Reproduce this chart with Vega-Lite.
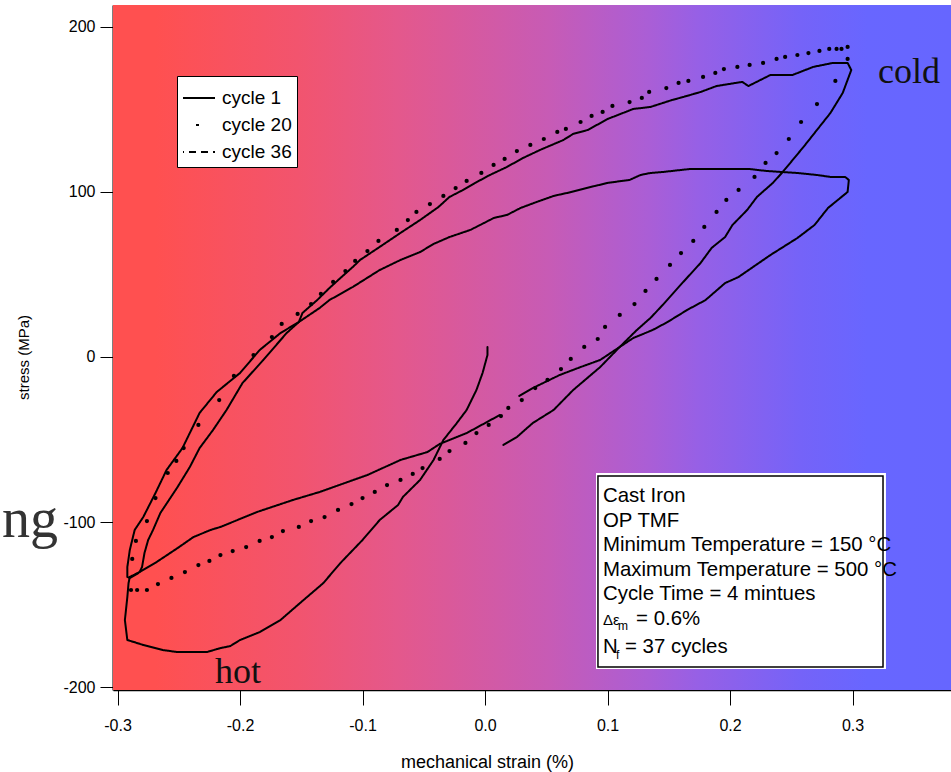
{
  "$schema": "https://vega.github.io/schema/vega-lite/v6.json",
  "width": 838,
  "height": 685,
  "autosize": {"type": "none"},
  "padding": {"left": 113, "top": 5, "right": 0, "bottom": 82},
  "background": "white",
  "config": {
    "font": "Liberation Sans",
    "view": {"stroke": null},
    "axis": {"grid": false, "domainColor": "black", "tickColor": "black", "labelColor": "black", "titleColor": "black", "titleFontWeight": "normal"}
  },
  "datasets": {
    "paths": [
      {"seg":"a","cycle":"cycle 1","t":1,"strain":0.002,"stress":6.1},
      {"seg":"a","cycle":"cycle 1","t":2,"strain":0.002,"stress":1.2},
      {"seg":"a","cycle":"cycle 1","t":3,"strain":-0.002,"stress":-9.7},
      {"seg":"a","cycle":"cycle 1","t":4,"strain":-0.007,"stress":-20.0},
      {"seg":"a","cycle":"cycle 1","t":5,"strain":-0.015,"stress":-32.1},
      {"seg":"a","cycle":"cycle 1","t":6,"strain":-0.023,"stress":-40.0},
      {"seg":"a","cycle":"cycle 1","t":7,"strain":-0.034,"stress":-50.3},
      {"seg":"a","cycle":"cycle 1","t":8,"strain":-0.042,"stress":-62.4},
      {"seg":"a","cycle":"cycle 1","t":9,"strain":-0.053,"stress":-74.5},
      {"seg":"a","cycle":"cycle 1","t":10,"strain":-0.067,"stress":-84.8},
      {"seg":"a","cycle":"cycle 1","t":11,"strain":-0.071,"stress":-89.7},
      {"seg":"a","cycle":"cycle 1","t":12,"strain":-0.086,"stress":-98.8},
      {"seg":"a","cycle":"cycle 1","t":13,"strain":-0.100,"stress":-110.9},
      {"seg":"a","cycle":"cycle 1","t":14,"strain":-0.118,"stress":-124.8},
      {"seg":"a","cycle":"cycle 1","t":15,"strain":-0.132,"stress":-137.0},
      {"seg":"a","cycle":"cycle 1","t":16,"strain":-0.151,"stress":-149.1},
      {"seg":"a","cycle":"cycle 1","t":17,"strain":-0.167,"stress":-159.4},
      {"seg":"a","cycle":"cycle 1","t":18,"strain":-0.184,"stress":-166.7},
      {"seg":"a","cycle":"cycle 1","t":19,"strain":-0.200,"stress":-171.5},
      {"seg":"a","cycle":"cycle 1","t":20,"strain":-0.208,"stress":-175.2},
      {"seg":"a","cycle":"cycle 1","t":21,"strain":-0.216,"stress":-176.4},
      {"seg":"a","cycle":"cycle 1","t":22,"strain":-0.227,"stress":-178.8},
      {"seg":"a","cycle":"cycle 1","t":23,"strain":-0.251,"stress":-178.8},
      {"seg":"a","cycle":"cycle 1","t":24,"strain":-0.263,"stress":-177.6},
      {"seg":"a","cycle":"cycle 1","t":25,"strain":-0.279,"stress":-174.5},
      {"seg":"a","cycle":"cycle 1","t":26,"strain":-0.292,"stress":-171.5},
      {"seg":"a","cycle":"cycle 1","t":27,"strain":-0.294,"stress":-159.4},
      {"seg":"a","cycle":"cycle 1","t":28,"strain":-0.292,"stress":-145.5},
      {"seg":"a","cycle":"cycle 1","t":29,"strain":-0.291,"stress":-137.0},
      {"seg":"a","cycle":"cycle 1","t":30,"strain":-0.290,"stress":-133.3},
      {"seg":"a","cycle":"cycle 1","t":31,"strain":-0.282,"stress":-130.3},
      {"seg":"a","cycle":"cycle 1","t":32,"strain":-0.268,"stress":-124.2},
      {"seg":"a","cycle":"cycle 1","t":33,"strain":-0.251,"stress":-115.8},
      {"seg":"a","cycle":"cycle 1","t":34,"strain":-0.238,"stress":-109.1},
      {"seg":"a","cycle":"cycle 1","t":35,"strain":-0.224,"stress":-104.8},
      {"seg":"a","cycle":"cycle 1","t":36,"strain":-0.216,"stress":-103.0},
      {"seg":"a","cycle":"cycle 1","t":37,"strain":-0.186,"stress":-93.9},
      {"seg":"a","cycle":"cycle 1","t":38,"strain":-0.157,"stress":-86.7},
      {"seg":"a","cycle":"cycle 1","t":39,"strain":-0.135,"stress":-81.8},
      {"seg":"a","cycle":"cycle 1","t":40,"strain":-0.096,"stress":-71.5},
      {"seg":"a","cycle":"cycle 1","t":41,"strain":-0.069,"stress":-62.4},
      {"seg":"a","cycle":"cycle 1","t":42,"strain":-0.047,"stress":-57.6},
      {"seg":"a","cycle":"cycle 1","t":43,"strain":-0.037,"stress":-52.7},
      {"seg":"a","cycle":"cycle 1","t":44,"strain":-0.015,"stress":-46.1},
      {"seg":"a","cycle":"cycle 1","t":45,"strain":0.012,"stress":-35.2},

      {"seg":"b","cycle":"cycle 1","t":1,"strain":0.028,"stress":-23.6},
      {"seg":"b","cycle":"cycle 1","t":2,"strain":0.039,"stress":-18.8},
      {"seg":"b","cycle":"cycle 1","t":3,"strain":0.061,"stress":-10.9},
      {"seg":"b","cycle":"cycle 1","t":4,"strain":0.078,"stress":-6.1},
      {"seg":"b","cycle":"cycle 1","t":5,"strain":0.094,"stress":-1.8},
      {"seg":"b","cycle":"cycle 1","t":6,"strain":0.110,"stress":6.1},
      {"seg":"b","cycle":"cycle 1","t":7,"strain":0.121,"stress":11.5},
      {"seg":"b","cycle":"cycle 1","t":8,"strain":0.137,"stress":16.4},
      {"seg":"b","cycle":"cycle 1","t":9,"strain":0.149,"stress":21.2},
      {"seg":"b","cycle":"cycle 1","t":10,"strain":0.165,"stress":28.5},
      {"seg":"b","cycle":"cycle 1","t":11,"strain":0.180,"stress":34.5},
      {"seg":"b","cycle":"cycle 1","t":12,"strain":0.196,"stress":44.8},
      {"seg":"b","cycle":"cycle 1","t":13,"strain":0.207,"stress":48.5},
      {"seg":"b","cycle":"cycle 1","t":14,"strain":0.233,"stress":61.8},
      {"seg":"b","cycle":"cycle 1","t":15,"strain":0.255,"stress":72.1},
      {"seg":"b","cycle":"cycle 1","t":16,"strain":0.269,"stress":80.0},
      {"seg":"b","cycle":"cycle 1","t":17,"strain":0.280,"stress":90.3},
      {"seg":"b","cycle":"cycle 1","t":18,"strain":0.296,"stress":100.0},
      {"seg":"b","cycle":"cycle 1","t":19,"strain":0.297,"stress":107.3},
      {"seg":"b","cycle":"cycle 1","t":20,"strain":0.294,"stress":109.1},
      {"seg":"b","cycle":"cycle 1","t":21,"strain":0.282,"stress":109.1},
      {"seg":"b","cycle":"cycle 1","t":22,"strain":0.271,"stress":110.3},
      {"seg":"b","cycle":"cycle 1","t":23,"strain":0.255,"stress":111.5},
      {"seg":"b","cycle":"cycle 1","t":24,"strain":0.230,"stress":112.7},
      {"seg":"b","cycle":"cycle 1","t":25,"strain":0.216,"stress":113.9},
      {"seg":"b","cycle":"cycle 1","t":26,"strain":0.167,"stress":113.9},
      {"seg":"b","cycle":"cycle 1","t":27,"strain":0.145,"stress":112.1},
      {"seg":"b","cycle":"cycle 1","t":28,"strain":0.135,"stress":111.5},
      {"seg":"b","cycle":"cycle 1","t":29,"strain":0.127,"stress":110.3},
      {"seg":"b","cycle":"cycle 1","t":30,"strain":0.118,"stress":107.3},
      {"seg":"b","cycle":"cycle 1","t":31,"strain":0.100,"stress":105.5},
      {"seg":"b","cycle":"cycle 1","t":32,"strain":0.083,"stress":102.4},
      {"seg":"b","cycle":"cycle 1","t":33,"strain":0.067,"stress":99.4},
      {"seg":"b","cycle":"cycle 1","t":34,"strain":0.056,"stress":97.6},
      {"seg":"b","cycle":"cycle 1","t":35,"strain":0.042,"stress":93.9},
      {"seg":"b","cycle":"cycle 1","t":36,"strain":0.029,"stress":90.3},
      {"seg":"b","cycle":"cycle 1","t":37,"strain":0.018,"stress":86.1},
      {"seg":"b","cycle":"cycle 1","t":38,"strain":0.007,"stress":84.2},
      {"seg":"b","cycle":"cycle 1","t":39,"strain":-0.004,"stress":80.0},
      {"seg":"b","cycle":"cycle 1","t":40,"strain":-0.012,"stress":77.0},
      {"seg":"b","cycle":"cycle 1","t":41,"strain":-0.029,"stress":72.7},
      {"seg":"b","cycle":"cycle 1","t":42,"strain":-0.042,"stress":68.5},
      {"seg":"b","cycle":"cycle 1","t":43,"strain":-0.053,"stress":63.6},
      {"seg":"b","cycle":"cycle 1","t":44,"strain":-0.069,"stress":58.8},
      {"seg":"b","cycle":"cycle 1","t":45,"strain":-0.086,"stress":52.7},
      {"seg":"b","cycle":"cycle 1","t":46,"strain":-0.108,"stress":42.4},
      {"seg":"b","cycle":"cycle 1","t":47,"strain":-0.127,"stress":34.5},
      {"seg":"b","cycle":"cycle 1","t":48,"strain":-0.135,"stress":29.7},
      {"seg":"b","cycle":"cycle 1","t":49,"strain":-0.152,"stress":21.2},
      {"seg":"b","cycle":"cycle 1","t":50,"strain":-0.167,"stress":14.5},
      {"seg":"b","cycle":"cycle 1","t":51,"strain":-0.184,"stress":4.2},
      {"seg":"b","cycle":"cycle 1","t":52,"strain":-0.200,"stress":-9.7},
      {"seg":"b","cycle":"cycle 1","t":53,"strain":-0.219,"stress":-21.2},
      {"seg":"b","cycle":"cycle 1","t":54,"strain":-0.233,"stress":-33.9},
      {"seg":"b","cycle":"cycle 1","t":55,"strain":-0.247,"stress":-55.2},
      {"seg":"b","cycle":"cycle 1","t":56,"strain":-0.260,"stress":-68.5},
      {"seg":"b","cycle":"cycle 1","t":57,"strain":-0.269,"stress":-82.4},
      {"seg":"b","cycle":"cycle 1","t":58,"strain":-0.279,"stress":-97.0},
      {"seg":"b","cycle":"cycle 1","t":59,"strain":-0.286,"stress":-104.8},
      {"seg":"b","cycle":"cycle 1","t":60,"strain":-0.290,"stress":-117.0},
      {"seg":"b","cycle":"cycle 1","t":61,"strain":-0.292,"stress":-127.3},
      {"seg":"b","cycle":"cycle 1","t":62,"strain":-0.292,"stress":-133.3},
      {"seg":"b","cycle":"cycle 1","t":63,"strain":-0.290,"stress":-133.9},
      {"seg":"b","cycle":"cycle 1","t":64,"strain":-0.283,"stress":-130.9},

      {"seg":"c","cycle":"cycle 1","t":1,"strain":-0.282,"stress":-130.3},
      {"seg":"c","cycle":"cycle 1","t":2,"strain":-0.280,"stress":-127.3},
      {"seg":"c","cycle":"cycle 1","t":3,"strain":-0.278,"stress":-118.8},
      {"seg":"c","cycle":"cycle 1","t":4,"strain":-0.275,"stress":-110.9},
      {"seg":"c","cycle":"cycle 1","t":5,"strain":-0.271,"stress":-104.8},
      {"seg":"c","cycle":"cycle 1","t":6,"strain":-0.265,"stress":-94.5},
      {"seg":"c","cycle":"cycle 1","t":7,"strain":-0.251,"stress":-78.8},
      {"seg":"c","cycle":"cycle 1","t":8,"strain":-0.241,"stress":-66.7},
      {"seg":"c","cycle":"cycle 1","t":9,"strain":-0.233,"stress":-55.2},
      {"seg":"c","cycle":"cycle 1","t":10,"strain":-0.222,"stress":-44.2},
      {"seg":"c","cycle":"cycle 1","t":11,"strain":-0.211,"stress":-32.1},
      {"seg":"c","cycle":"cycle 1","t":12,"strain":-0.198,"stress":-15.8},
      {"seg":"c","cycle":"cycle 1","t":13,"strain":-0.181,"stress":-1.8},
      {"seg":"c","cycle":"cycle 1","t":14,"strain":-0.162,"stress":14.5},
      {"seg":"c","cycle":"cycle 1","t":15,"strain":-0.152,"stress":21.2},
      {"seg":"c","cycle":"cycle 1","t":16,"strain":-0.149,"stress":26.7},
      {"seg":"c","cycle":"cycle 1","t":17,"strain":-0.137,"stress":34.5},
      {"seg":"c","cycle":"cycle 1","t":18,"strain":-0.127,"stress":41.8},
      {"seg":"c","cycle":"cycle 1","t":19,"strain":-0.118,"stress":47.9},
      {"seg":"c","cycle":"cycle 1","t":20,"strain":-0.108,"stress":54.5},
      {"seg":"c","cycle":"cycle 1","t":21,"strain":-0.102,"stress":58.8},
      {"seg":"c","cycle":"cycle 1","t":22,"strain":-0.086,"stress":66.7},
      {"seg":"c","cycle":"cycle 1","t":23,"strain":-0.069,"stress":75.2},
      {"seg":"c","cycle":"cycle 1","t":24,"strain":-0.053,"stress":83.0},
      {"seg":"c","cycle":"cycle 1","t":25,"strain":-0.038,"stress":90.9},
      {"seg":"c","cycle":"cycle 1","t":26,"strain":-0.029,"stress":97.0},
      {"seg":"c","cycle":"cycle 1","t":27,"strain":-0.018,"stress":101.2},
      {"seg":"c","cycle":"cycle 1","t":28,"strain":-0.008,"stress":105.5},
      {"seg":"c","cycle":"cycle 1","t":29,"strain":0.004,"stress":110.3},
      {"seg":"c","cycle":"cycle 1","t":30,"strain":0.018,"stress":115.2},
      {"seg":"c","cycle":"cycle 1","t":31,"strain":0.031,"stress":120.6},
      {"seg":"c","cycle":"cycle 1","t":32,"strain":0.045,"stress":125.5},
      {"seg":"c","cycle":"cycle 1","t":33,"strain":0.064,"stress":131.5},
      {"seg":"c","cycle":"cycle 1","t":34,"strain":0.072,"stress":135.2},
      {"seg":"c","cycle":"cycle 1","t":35,"strain":0.084,"stress":137.6},
      {"seg":"c","cycle":"cycle 1","t":36,"strain":0.100,"stress":144.2},
      {"seg":"c","cycle":"cycle 1","t":37,"strain":0.121,"stress":150.3},
      {"seg":"c","cycle":"cycle 1","t":38,"strain":0.135,"stress":151.5},
      {"seg":"c","cycle":"cycle 1","t":39,"strain":0.153,"stress":155.8},
      {"seg":"c","cycle":"cycle 1","t":40,"strain":0.162,"stress":157.6},
      {"seg":"c","cycle":"cycle 1","t":41,"strain":0.176,"stress":160.6},
      {"seg":"c","cycle":"cycle 1","t":42,"strain":0.189,"stress":164.2},
      {"seg":"c","cycle":"cycle 1","t":43,"strain":0.210,"stress":166.7},
      {"seg":"c","cycle":"cycle 1","t":44,"strain":0.215,"stress":164.2},
      {"seg":"c","cycle":"cycle 1","t":45,"strain":0.233,"stress":170.9},
      {"seg":"c","cycle":"cycle 1","t":46,"strain":0.251,"stress":170.9},
      {"seg":"c","cycle":"cycle 1","t":47,"strain":0.268,"stress":175.8},
      {"seg":"c","cycle":"cycle 1","t":48,"strain":0.284,"stress":178.2},
      {"seg":"c","cycle":"cycle 1","t":49,"strain":0.296,"stress":178.2},
      {"seg":"c","cycle":"cycle 1","t":50,"strain":0.299,"stress":173.9},
      {"seg":"c","cycle":"cycle 1","t":51,"strain":0.292,"stress":160.0},
      {"seg":"c","cycle":"cycle 1","t":52,"strain":0.282,"stress":147.9},
      {"seg":"c","cycle":"cycle 1","t":53,"strain":0.260,"stress":127.3},
      {"seg":"c","cycle":"cycle 1","t":54,"strain":0.243,"stress":112.1},
      {"seg":"c","cycle":"cycle 1","t":55,"strain":0.235,"stress":105.5},
      {"seg":"c","cycle":"cycle 1","t":56,"strain":0.222,"stress":97.0},
      {"seg":"c","cycle":"cycle 1","t":57,"strain":0.214,"stress":89.1},
      {"seg":"c","cycle":"cycle 1","t":58,"strain":0.202,"stress":80.0},
      {"seg":"c","cycle":"cycle 1","t":59,"strain":0.196,"stress":72.7},
      {"seg":"c","cycle":"cycle 1","t":60,"strain":0.185,"stress":66.1},
      {"seg":"c","cycle":"cycle 1","t":61,"strain":0.176,"stress":57.0},
      {"seg":"c","cycle":"cycle 1","t":62,"strain":0.161,"stress":44.8},
      {"seg":"c","cycle":"cycle 1","t":63,"strain":0.145,"stress":31.5},
      {"seg":"c","cycle":"cycle 1","t":64,"strain":0.135,"stress":23.6},
      {"seg":"c","cycle":"cycle 1","t":65,"strain":0.124,"stress":16.4},
      {"seg":"c","cycle":"cycle 1","t":66,"strain":0.110,"stress":6.1},
      {"seg":"c","cycle":"cycle 1","t":67,"strain":0.094,"stress":-6.1},
      {"seg":"c","cycle":"cycle 1","t":68,"strain":0.072,"stress":-20.0},
      {"seg":"c","cycle":"cycle 1","t":69,"strain":0.056,"stress":-32.1},
      {"seg":"c","cycle":"cycle 1","t":70,"strain":0.039,"stress":-40.0},
      {"seg":"c","cycle":"cycle 1","t":71,"strain":0.026,"stress":-48.5},
      {"seg":"c","cycle":"cycle 1","t":72,"strain":0.015,"stress":-53.3}
    ],
    "dots": [
      {"strain":-0.289,"stress":-141.2},{"strain":-0.288,"stress":-122.4},{"strain":-0.285,"stress":-111.5},
      {"strain":-0.276,"stress":-99.4},{"strain":-0.269,"stress":-85.5},{"strain":-0.259,"stress":-70.3},
      {"strain":-0.252,"stress":-63.0},{"strain":-0.246,"stress":-55.2},{"strain":-0.234,"stress":-41.2},
      {"strain":-0.217,"stress":-26.1},{"strain":-0.205,"stress":-11.5},{"strain":-0.189,"stress":1.2},
      {"strain":-0.174,"stress":12.1},{"strain":-0.166,"stress":20.0},{"strain":-0.153,"stress":26.1},
      {"strain":-0.142,"stress":32.1},{"strain":-0.134,"stress":38.2},{"strain":-0.124,"stress":45.5},
      {"strain":-0.114,"stress":52.1},{"strain":-0.106,"stress":58.2},{"strain":-0.096,"stress":64.2},
      {"strain":-0.087,"stress":70.3},{"strain":-0.072,"stress":77.0},{"strain":-0.063,"stress":83.0},
      {"strain":-0.056,"stress":87.9},{"strain":-0.045,"stress":92.7},{"strain":-0.034,"stress":97.6},
      {"strain":-0.024,"stress":102.4},{"strain":-0.015,"stress":106.7},{"strain":-0.003,"stress":111.5},
      {"strain":0.007,"stress":116.4},{"strain":0.016,"stress":120.0},{"strain":0.026,"stress":124.8},
      {"strain":0.037,"stress":128.5},{"strain":0.048,"stress":132.1},{"strain":0.059,"stress":136.4},
      {"strain":0.066,"stress":138.2},{"strain":0.078,"stress":142.4},{"strain":0.087,"stress":146.1},
      {"strain":0.096,"stress":148.5},{"strain":0.104,"stress":152.1},{"strain":0.118,"stress":154.5},
      {"strain":0.128,"stress":157.0},{"strain":0.134,"stress":160.6},{"strain":0.148,"stress":163.0},
      {"strain":0.158,"stress":166.1},{"strain":0.166,"stress":167.3},{"strain":0.178,"stress":169.7},
      {"strain":0.188,"stress":172.1},{"strain":0.195,"stress":174.5},{"strain":0.206,"stress":175.8},
      {"strain":0.216,"stress":177.0},{"strain":0.227,"stress":178.2},{"strain":0.238,"stress":180.6},
      {"strain":0.245,"stress":181.8},{"strain":0.255,"stress":183.0},{"strain":0.264,"stress":184.2},
      {"strain":0.273,"stress":185.5},{"strain":0.281,"stress":186.7},{"strain":0.287,"stress":186.7},
      {"strain":0.291,"stress":186.7},{"strain":0.296,"stress":187.9},
      {"strain":0.296,"stress":180.6},{"strain":0.286,"stress":167.3},{"strain":0.271,"stress":153.3},
      {"strain":0.258,"stress":142.4},{"strain":0.248,"stress":132.1},{"strain":0.238,"stress":123.6},
      {"strain":0.229,"stress":117.6},{"strain":0.220,"stress":109.1},{"strain":0.207,"stress":101.2},
      {"strain":0.197,"stress":95.2},{"strain":0.189,"stress":87.9},{"strain":0.179,"stress":78.8},
      {"strain":0.170,"stress":70.3},{"strain":0.160,"stress":63.0},{"strain":0.151,"stress":55.8},
      {"strain":0.140,"stress":47.3},{"strain":0.131,"stress":40.0},{"strain":0.122,"stress":32.1},
      {"strain":0.110,"stress":25.5},{"strain":0.098,"stress":18.2},{"strain":0.092,"stress":10.9},
      {"strain":0.081,"stress":6.1},{"strain":0.070,"stress":-1.2},{"strain":0.062,"stress":-7.3},
      {"strain":0.051,"stress":-13.9},{"strain":0.041,"stress":-18.8},{"strain":0.030,"stress":-26.1},
      {"strain":0.019,"stress":-30.9},{"strain":0.013,"stress":-35.8},{"strain":0.003,"stress":-41.2},
      {"strain":-0.007,"stress":-46.1},{"strain":-0.016,"stress":-52.1},{"strain":-0.029,"stress":-57.0},
      {"strain":-0.037,"stress":-61.8},{"strain":-0.051,"stress":-67.3},{"strain":-0.059,"stress":-70.9},
      {"strain":-0.069,"stress":-74.5},{"strain":-0.080,"stress":-77.6},{"strain":-0.090,"stress":-81.8},
      {"strain":-0.100,"stress":-85.5},{"strain":-0.109,"stress":-89.1},{"strain":-0.120,"stress":-92.7},
      {"strain":-0.131,"stress":-97.0},{"strain":-0.142,"stress":-99.4},{"strain":-0.152,"stress":-103.0},
      {"strain":-0.165,"stress":-105.5},{"strain":-0.174,"stress":-109.1},{"strain":-0.184,"stress":-111.5},
      {"strain":-0.195,"stress":-115.2},{"strain":-0.206,"stress":-117.6},{"strain":-0.216,"stress":-120.0},
      {"strain":-0.225,"stress":-123.6},{"strain":-0.234,"stress":-126.1},{"strain":-0.245,"stress":-130.3},
      {"strain":-0.256,"stress":-133.9},{"strain":-0.267,"stress":-137.6},{"strain":-0.276,"stress":-141.2},
      {"strain":-0.284,"stress":-141.2}
    ]
  },
  "encoding": {
    "x": {"type": "quantitative", "scale": {"domain": [-0.3037, 0.3804], "nice": false, "zero": false},
      "axis": {"values": [-0.3,-0.2,-0.1,0,0.1,0.2,0.3], "labelExpr": "replace(format(datum.value, '.1f'), '\u2212', '-')",
        "title": "mechanical strain (%)", "titleFontSize": 18, "titleX": 374, "titlePadding": 20,
        "labelFontSize": 16, "tickSize": 15, "labelPadding": 12, "domainWidth": 1.5}},
    "y": {"type": "quantitative", "scale": {"domain": [-201.8, 213.3], "nice": false, "zero": false},
      "axis": {"values": [-200,-100,0,100,200], "labelExpr": "replace(datum.label, '\u2212', '-')",
        "title": "stress (MPa)", "titleFontSize": 15, "titleY": 352, "titlePadding": 31,
        "labelFontSize": 16, "tickSize": 13, "labelPadding": 5, "domainWidth": 2}}
  },
  "layer": [
    {
      "data": {"values": [{}]},
      "mark": {"type": "rect", "color": {"gradient": "linear", "x1": 0, "y1": 0, "x2": 1, "y2": 0,
        "stops": [
          {"offset": 0, "color": "#ff5050"},
          {"offset": 0.05, "color": "#ff5050"},
          {"offset": 0.22, "color": "#f2546e"},
          {"offset": 0.34, "color": "#e4588c"},
          {"offset": 0.52, "color": "#c75bb5"},
          {"offset": 0.64, "color": "#aa5ed6"},
          {"offset": 0.70, "color": "#9660e6"},
          {"offset": 0.82, "color": "#7563f8"},
          {"offset": 0.90, "color": "#6866ff"},
          {"offset": 1, "color": "#6666ff"}
        ]}},
      "encoding": {"x": {"datum": -0.3037}, "x2": {"datum": 0.3804}, "y": {"datum": 213.3}, "y2": {"datum": -201.8}}
    },
    {
      "data": {"values": [{}]},
      "mark": {"type": "rect", "fill": "white"},
      "encoding": {"x": {"datum": 0.0906}, "x2": {"datum": 0.3273}, "y": {"datum": -70.3}, "y2": {"datum": -189.1}}
    },
    {
      "data": {"values": [{}]},
      "mark": {"type": "rect", "fill": "white", "stroke": "black", "strokeWidth": 1.5},
      "encoding": {"x": {"datum": 0.0922}, "x2": {"datum": 0.3249}, "y": {"datum": -72.1}, "y2": {"datum": -187.9}}
    },
    {
      "data": {"name": "paths"},
      "mark": {"type": "line", "color": "black", "strokeWidth": 2, "strokeJoin": "round", "strokeCap": "round"},
      "encoding": {
        "x": {"field": "strain", "type": "quantitative"},
        "y": {"field": "stress", "type": "quantitative"},
        "detail": {"field": "seg"},
        "order": {"field": "t", "type": "quantitative"},
        "strokeDash": {"field": "cycle", "type": "nominal",
          "scale": {"domain": ["cycle 1", "cycle 20", "cycle 36"], "range": [[1, 0], [3, 40], [7, 5]]},
          "legend": {"title": null, "orient": "none", "legendX": 64, "legendY": 71,
            "fillColor": "white", "strokeColor": "black", "padding": 5,
            "labelFontSize": 19, "labelColor": "black", "labelOffset": 6,
            "symbolSize": 1024, "symbolStrokeWidth": 2, "symbolStrokeColor": "black",
            "symbolDashOffset": 30, "rowPadding": -8}}
      }
    },
    {
      "data": {"name": "dots"},
      "mark": {"type": "circle", "size": 18, "color": "black", "opacity": 1},
      "encoding": {
        "x": {"field": "strain", "type": "quantitative"},
        "y": {"field": "stress", "type": "quantitative"}
      }
    },
    {
      "data": {"values": [{}]},
      "mark": {"type": "text", "align": "left", "baseline": "alphabetic", "fontSize": 20.4, "lineHeight": 24.6, "color": "black",
        "text": ["Cast Iron", "OP TMF", "Minimum Temperature = 150 °C", "Maximum Temperature = 500 °C", "Cycle Time = 4 mintues"]},
      "encoding": {"x": {"datum": 0.0963}, "y": {"datum": -87.9}}
    },
    {
      "data": {"values": [{}]},
      "mark": {"type": "text", "align": "left", "baseline": "alphabetic", "fontSize": 15, "color": "black", "text": "Δε"},
      "encoding": {"x": {"datum": 0.0963}, "y": {"datum": -162.4}}
    },
    {
      "data": {"values": [{}]},
      "mark": {"type": "text", "align": "left", "baseline": "alphabetic", "fontSize": 12, "color": "black", "text": "m"},
      "encoding": {"x": {"datum": 0.1086}, "y": {"datum": -165.5}}
    },
    {
      "data": {"values": [{}]},
      "mark": {"type": "text", "align": "left", "baseline": "alphabetic", "fontSize": 20.4, "color": "black", "text": "= 0.6%"},
      "encoding": {"x": {"datum": 0.1233}, "y": {"datum": -162.4}}
    },
    {
      "data": {"values": [{}]},
      "mark": {"type": "text", "align": "left", "baseline": "alphabetic", "fontSize": 20.4, "color": "black", "text": "N"},
      "encoding": {"x": {"datum": 0.0963}, "y": {"datum": -179.4}}
    },
    {
      "data": {"values": [{}]},
      "mark": {"type": "text", "align": "left", "baseline": "alphabetic", "fontSize": 12, "color": "black", "text": "f"},
      "encoding": {"x": {"datum": 0.1069}, "y": {"datum": -183.0}}
    },
    {
      "data": {"values": [{}]},
      "mark": {"type": "text", "align": "left", "baseline": "alphabetic", "fontSize": 20.4, "color": "black", "text": "= 37 cycles"},
      "encoding": {"x": {"datum": 0.1143}, "y": {"datum": -179.4}}
    },
    {
      "data": {"values": [{}]},
      "mark": {"type": "text", "align": "left", "baseline": "alphabetic", "fontSize": 36, "font": "Liberation Serif", "color": "#111", "text": "cold"},
      "encoding": {"x": {"datum": 0.3208}, "y": {"datum": 166.1}}
    },
    {
      "data": {"values": [{}]},
      "mark": {"type": "text", "align": "left", "baseline": "alphabetic", "fontSize": 36, "font": "Liberation Serif", "color": "#111", "text": "hot"},
      "encoding": {"x": {"datum": -0.2204}, "y": {"datum": -197.6}}
    },
    {
      "data": {"values": [{}]},
      "mark": {"type": "text", "align": "right", "baseline": "alphabetic", "fontSize": 56, "font": "Liberation Serif", "color": "#333", "text": "ng"},
      "encoding": {"x": {"datum": -0.3486}, "y": {"datum": -109.1}}
    }
  ]
}
